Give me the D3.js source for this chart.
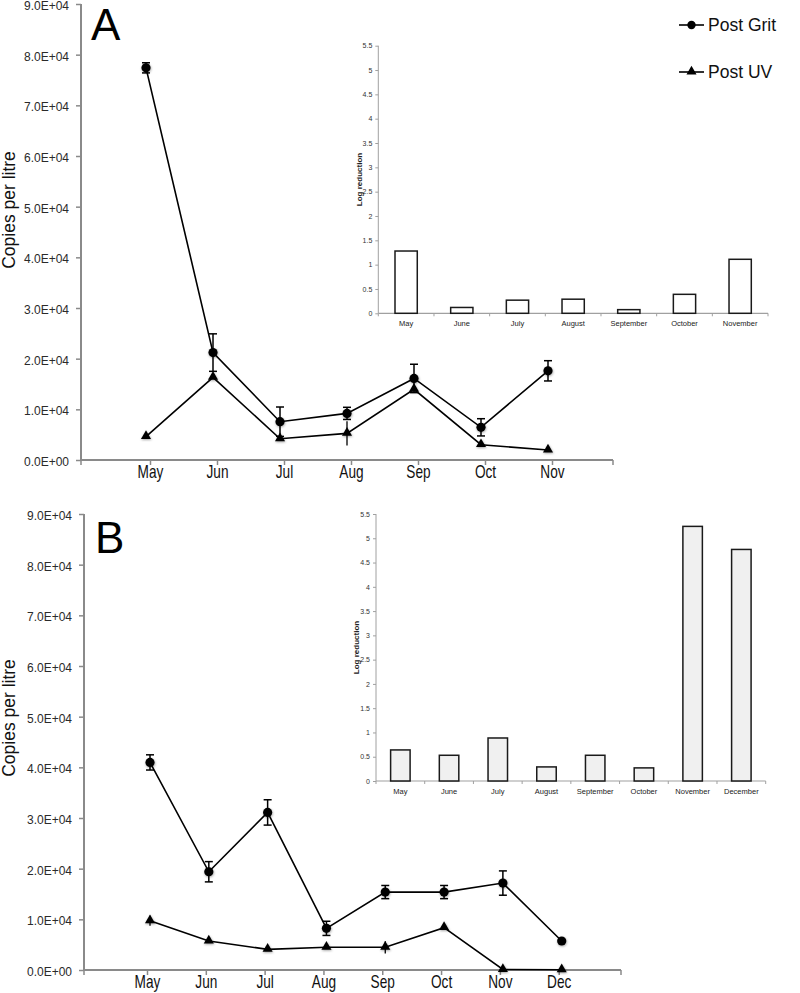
<!DOCTYPE html>
<html>
<head>
<meta charset="utf-8">
<script src="https://cdn.jsdelivr.net/npm/d3@7"></script>
<style>
  html, body { margin: 0; padding: 0; background: #fff; }
  svg { display: block; }
  text { font-family: "Liberation Sans", Arial, Helvetica, sans-serif; }
</style>
</head>
<body>
<svg id="chart" width="800" height="993"></svg>
<script>
// ---------------- DATA ----------------
const monthsA = ["May", "Jun", "Jul", "Aug", "Sep", "Oct", "Nov"];
const gritA    = [77400, 21200, 7560, 9200, 16100, 6450, 17600];
const gritAErr = [1000, 3700, 2900, 1200, 2800, 1700, 2000];
const uvA      = [4600, 16300, 4200, 5260, 13950, 3020, 1970];
const uvAErr   = [0, 0, 0, 2400, 0, 0, 0];

const monthsB = ["May", "Jun", "Jul", "Aug", "Sep", "Oct", "Nov", "Dec"];
const gritB    = [40970, 19390, 31100, 8220, 15380, 15380, 17160, 5720];
const gritBErr = [1500, 2000, 2500, 1400, 1300, 1300, 2400, 0];
const uvB      = [9720, 5720, 4080, 4480, 4480, 8350, 100, 50];
const uvBErr   = [1000, 0, 0, 0, 1200, 0, 0, 0];

const insetMonthsA = ["May", "June", "July", "August", "September", "October", "November"];
const logRedA = [1.28, 0.12, 0.27, 0.29, 0.075, 0.39, 1.11];
const insetMonthsB = ["May", "June", "July", "August", "September", "October", "November", "December"];
const logRedB = [0.64, 0.53, 0.886, 0.29, 0.53, 0.27, 5.245, 4.77];

const mainTicks = [0, 10000, 20000, 30000, 40000, 50000, 60000, 70000, 80000, 90000];
const insetTicks = [0, 0.5, 1, 1.5, 2, 2.5, 3, 3.5, 4, 4.5, 5, 5.5];
const seriesNames = ["Post Grit", "Post UV"];

// ---------------- HELPERS ----------------
const svg = d3.select("#chart");
const defs = svg.append("defs");
const f = defs.append("filter").attr("id", "shadow").attr("x", "-100%").attr("y", "-100%").attr("width", "300%").attr("height", "300%");
f.append("feDropShadow").attr("dx", 0.5).attr("dy", 1).attr("stdDeviation", 1.3).attr("flood-color", "#000").attr("flood-opacity", 0.35);

function sciFmt(d) {
  if (d === 0) return "0.0E+00";
  const e = Math.floor(Math.log10(d));
  const m = d / Math.pow(10, e);
  return m.toFixed(1) + "E+" + String(e).padStart(2, "0");
}

const triPath = d3.symbol().type(d3.symbolTriangle).size(44)();

function mainPanel(cfg) {
  const { months, grit, gritErr, uv, uvErr, xRange, axisX0, axisX1, y0, yTop, letter, letterPos, labelOffset, labelShift } = cfg;
  const x = d3.scalePoint().domain(months).range(xRange);
  const y = d3.scaleLinear().domain([0, 90000]).range([y0, yTop]);
  const g = svg.append("g");

  // Y axis
  const yAxis = d3.axisLeft(y).tickValues(mainTicks).tickFormat(sciFmt).tickSize(5).tickPadding(7);
  const ya = g.append("g").attr("transform", `translate(${axisX0},0)`).call(yAxis);
  ya.select(".domain").attr("stroke", "#8a8a8a").attr("stroke-width", 2).attr("d", `M0,${yTop}V${y0}`);
  ya.selectAll(".tick line").attr("stroke", "#8a8a8a").attr("stroke-width", 1.5);
  ya.selectAll(".tick text").attr("font-family", "'Open Sans', sans-serif").attr("font-size", 12).attr("fill", "#2a2a2a").attr("dy", "0.45em");

  // X axis
  const xa = g.append("g").attr("transform", `translate(0,${y0})`);
  xa.append("line").attr("x1", axisX0).attr("x2", axisX1).attr("y1", 0).attr("y2", 0).attr("stroke", "#8a8a8a").attr("stroke-width", 2);
  const xAxis = d3.axisBottom(x).tickSize(5).tickPadding(1);
  const xg = xa.append("g").call(xAxis);
  xg.select(".domain").remove();
  xg.selectAll(".tick line").attr("stroke", "#8a8a8a").attr("stroke-width", 1.5).attr("transform", `translate(${labelShift},0)`);
  xg.selectAll(".tick text").attr("font-size", 17.5).attr("fill", "#111")
    .attr("transform", `translate(${labelShift},0) scale(0.78,1)`).attr("dy", "0.71em");
  xa.append("line").attr("x1", axisX0).attr("x2", axisX0).attr("y1", 0).attr("y2", 5).attr("stroke", "#8a8a8a").attr("stroke-width", 1.5);
  xa.append("line").attr("x1", axisX1).attr("x2", axisX1).attr("y1", 0).attr("y2", 5).attr("stroke", "#8a8a8a").attr("stroke-width", 1.5);

  // Y title
  g.append("text").attr("transform", `translate(15,${(y0 + yTop) / 2 + labelOffset}) rotate(-90)`)
    .attr("text-anchor", "middle").attr("font-size", 17.5).attr("fill", "#111").text("Copies per litre");

  // Panel letter
  g.append("text").attr("x", letterPos[0]).attr("y", letterPos[1]).attr("font-size", 44).attr("fill", "#000").text(letter);

  const line = d3.line().x((d, i) => x(months[i])).y(d => y(d));

  // Lines
  g.append("path").datum(grit).attr("d", line).attr("fill", "none").attr("stroke", "#000").attr("stroke-width", 1.6);
  g.append("path").datum(uv).attr("d", line).attr("fill", "none").attr("stroke", "#000").attr("stroke-width", 1.6);

  // Error bars
  grit.forEach((v, i) => {
    const e = gritErr[i];
    if (!e) return;
    const cx = x(months[i]);
    g.append("line").attr("x1", cx).attr("x2", cx).attr("y1", y(v - e)).attr("y2", y(v + e)).attr("stroke", "#000").attr("stroke-width", 1.5);
    [v - e, v + e].forEach(w => g.append("line").attr("x1", cx - 4).attr("x2", cx + 4).attr("y1", y(w)).attr("y2", y(w)).attr("stroke", "#000").attr("stroke-width", 1.5));
  });
  uv.forEach((v, i) => {
    const e = uvErr[i];
    if (!e) return;
    const cx = x(months[i]);
    g.append("line").attr("x1", cx).attr("x2", cx).attr("y1", y(v - e)).attr("y2", y(v + e)).attr("stroke", "#000").attr("stroke-width", 1.3);
  });

  // Markers
  g.append("g").attr("filter", "url(#shadow)").selectAll("circle").data(grit).join("circle")
    .attr("cx", (d, i) => x(months[i])).attr("cy", d => y(d)).attr("r", 4.6).attr("fill", "#000");
  g.append("g").attr("filter", "url(#shadow)").selectAll("path").data(uv).join("path")
    .attr("d", triPath).attr("transform", (d, i) => `translate(${x(months[i])},${y(d) - 0.5})`).attr("fill", "#000");
}

function inset(cfg) {
  const { months, values, x0, x1, y0, yTop, fill, titleX } = cfg;
  const pad = 0.6;
  const x = d3.scaleBand().domain(months).range([x0, x1]).paddingInner(pad).paddingOuter(pad / 2);
  const y = d3.scaleLinear().domain([0, 5.5]).range([y0, yTop]);
  const g = svg.append("g");

  const ya = g.append("g").attr("transform", `translate(${x0},0)`)
    .call(d3.axisLeft(y).tickValues(insetTicks).tickFormat(d => String(d)).tickSize(3).tickPadding(3));
  ya.select(".domain").attr("stroke", "#a0a0a0").attr("stroke-width", 1).attr("d", `M0,${yTop}V${y0}`);
  ya.selectAll(".tick line").attr("stroke", "#a0a0a0");
  ya.selectAll(".tick text").attr("font-size", 7).attr("fill", "#333");

  const xa = g.append("g").attr("transform", `translate(0,${y0})`);
  xa.append("line").attr("x1", x0).attr("x2", x1).attr("stroke", "#a0a0a0").attr("stroke-width", 1.2);
  const step = x.step();
  d3.range(months.length + 1).forEach(i => {
    xa.append("line").attr("x1", x0 + i * step).attr("x2", x0 + i * step).attr("y1", 0).attr("y2", 3).attr("stroke", "#a0a0a0");
  });
  xa.selectAll("text.cat").data(months).join("text").attr("class", "cat")
    .attr("x", d => x(d) + x.bandwidth() / 2).attr("y", 13)
    .attr("text-anchor", "middle").attr("font-size", 7.5).attr("fill", "#222").text(d => d);

  g.append("text").attr("transform", `translate(${titleX},${(y0 + yTop) / 2}) rotate(-90)`)
    .attr("text-anchor", "middle").attr("font-size", 8).attr("font-weight", "bold").attr("fill", "#222").text("Log reduction");

  g.selectAll("rect").data(values).join("rect")
    .attr("x", (d, i) => x(months[i])).attr("width", x.bandwidth())
    .attr("y", d => y(d)).attr("height", d => y0 - y(d))
    .attr("fill", fill).attr("stroke", "#1a1a1a").attr("stroke-width", 1.5);
}

// ---------------- DRAW ----------------
mainPanel({ months: monthsA, grit: gritA, gritErr: gritAErr, uv: uvA, uvErr: uvAErr,
  xRange: [146, 548], axisX0: 81, axisX1: 613, y0: 460, yTop: 4, letter: "A", letterPos: [91, 40], labelOffset: -22, labelShift: 4 });
mainPanel({ months: monthsB, grit: gritB, gritErr: gritBErr, uv: uvB, uvErr: uvBErr,
  xRange: [150, 561.7], axisX0: 84, axisX1: 621, y0: 970, yTop: 514, letter: "B", letterPos: [95, 553], labelOffset: -24, labelShift: -3 });

inset({ months: insetMonthsA, values: logRedA, x0: 378.3, x1: 768, y0: 313.3, yTop: 45.7, fill: "#ffffff", titleX: 362 });
inset({ months: insetMonthsB, values: logRedB, x0: 376, x1: 765.7, y0: 781, yTop: 514, fill: "#f0f0f0", titleX: 359 });

// Legend
const legend = svg.append("g");
seriesNames.forEach((name, i) => {
  const ly = i === 0 ? 25 : 72;
  legend.append("line").attr("x1", 679).attr("x2", 704).attr("y1", ly).attr("y2", ly).attr("stroke", "#000").attr("stroke-width", 1.6);
  if (i === 0) legend.append("circle").attr("cx", 691.5).attr("cy", ly).attr("r", 4.2).attr("fill", "#000");
  else legend.append("path").attr("d", triPath).attr("transform", `translate(691.5,${ly - 0.5})`).attr("fill", "#000");
  legend.append("text").attr("x", 708).attr("y", ly + 6.3).attr("font-size", 17.5).attr("fill", "#111").text(name);
});
</script>
</body>
</html>
